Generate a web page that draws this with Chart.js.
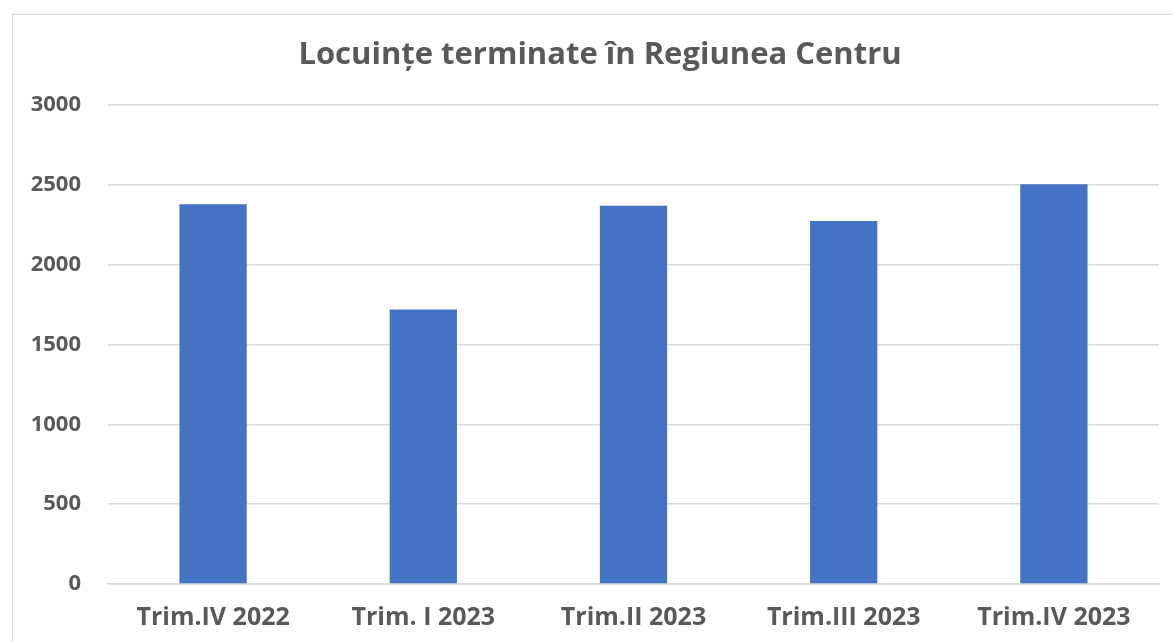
<!DOCTYPE html>
<html>
<head>
<meta charset="utf-8">
<script src="https://cdn.jsdelivr.net/npm/chart.js@4"></script>
<style>
  html, body { margin: 0; padding: 0; background: #fff; overflow: hidden; }
  #box { position: absolute; left: 12px; top: 14px; width: 1174px; height: 640px;
         border: 1.5px solid #d9d9d9; box-sizing: border-box; }
  canvas { position: absolute; left: 0; top: 0; }
</style>
</head>
<body>
<div id="box"><canvas id="chart" width="1174" height="640"></canvas></div>
<script>
const categories = ['Trim.IV 2022', 'Trim. I 2023', 'Trim.II 2023', 'Trim.III 2023', 'Trim.IV 2023'];
const values = [2380, 1720, 2370, 2275, 2505];
const yTicks = [0, 500, 1000, 1500, 2000, 2500, 3000];

const textColor = '#595959';
const gridColor = '#d9d9d9';
const fontFamily = '"Open Sans", Lato, sans-serif';

const ctx = document.getElementById('chart').getContext('2d');
new Chart(ctx, {
  type: 'bar',
  data: {
    labels: categories,
    datasets: [{ data: values, backgroundColor: '#4472c4', barPercentage: 0.32, categoryPercentage: 1 }]
  },
  options: {
    responsive: false,
    animation: false,
    plugins: {
      legend: { display: false },
      tooltip: { enabled: false },
      title: {
        display: true,
        text: 'Locuințe terminate în Regiunea Centru',
        color: textColor,
        font: { family: fontFamily, size: 31, weight: 'bold' },
        padding: { top: 22, bottom: 31 }
      }
    },
    scales: {
      x: {
        grid: { display: false, drawTicks: false },
        border: { display: true, color: gridColor, width: 1.5 },
        ticks: { color: textColor, padding: 19, font: { family: fontFamily, size: 25, weight: 'bold' } },
        afterFit: s => { s.height = 71; }
      },
      y: {
        min: 0, max: 3000,
        afterBuildTicks: s => { s.ticks = yTicks.map(v => ({ value: v })); },
        grid: { color: gridColor, lineWidth: 1.5, drawTicks: false },
        border: { display: false },
        ticks: {
          color: textColor, padding: 27,
          font: { family: fontFamily, size: 22, weight: 'bold' },
          callback: v => String(v)
        },
        afterFit: s => { s.width = 95; }
      },
      // empty right-hand spacer so the title stays centred on the whole box
      spacer: {
        type: 'linear', position: 'right', display: true,
        grid: { display: false, drawTicks: false },
        border: { display: false },
        ticks: { display: false },
        afterFit: s => { s.width = 28; }
      }
    }
  }
});
</script>
</body>
</html>
